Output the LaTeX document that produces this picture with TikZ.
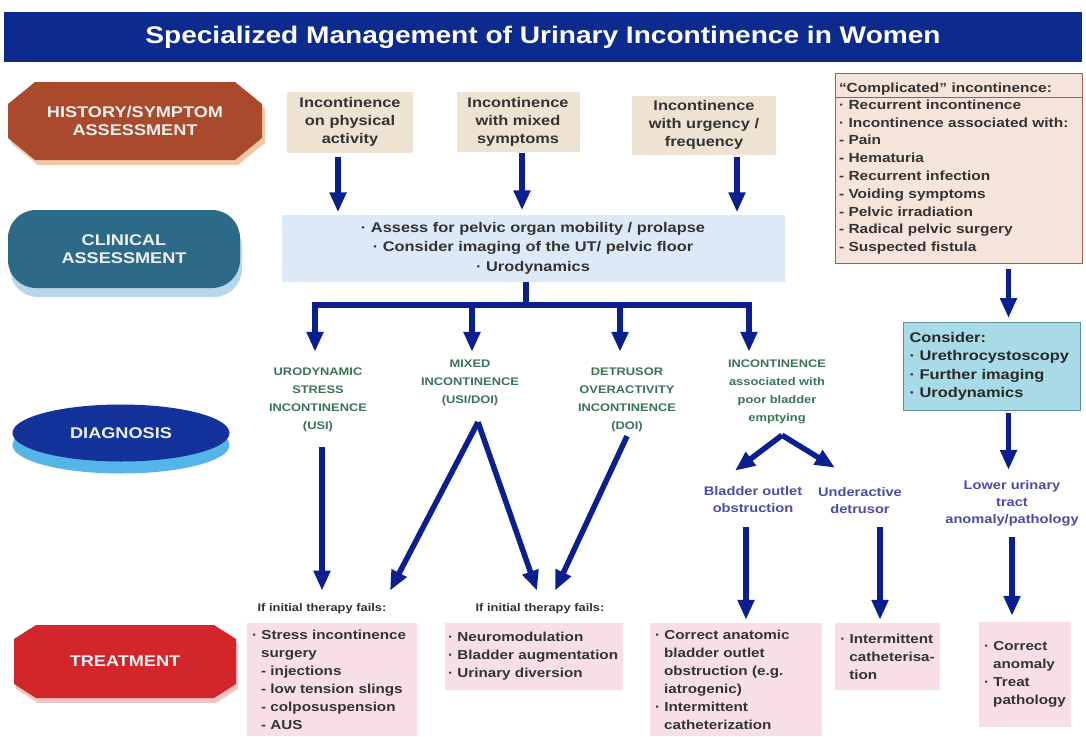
\documentclass[tikz,border=0pt]{standalone}
\usepackage{fontspec}
\setmainfont{Liberation Sans}[FakeStretch=1.17]
\usetikzlibrary{arrows.meta,shapes.geometric,shapes.multipart,shadows}

\definecolor{bluTitolo}{RGB}{13,43,142}
\definecolor{marrone}{RGB}{169,74,44}
\definecolor{pesca}{RGB}{242,199,164}
\definecolor{tealScuro}{RGB}{45,106,136}
\definecolor{celesteOmbra}{RGB}{185,215,234}
\definecolor{bluDiag}{RGB}{19,51,155}
\definecolor{azzurroOmbra}{RGB}{86,181,232}
\definecolor{rosso}{RGB}{211,38,42}
\definecolor{rosaOmbra}{RGB}{245,196,196}
\definecolor{beige}{RGB}{238,227,211}
\definecolor{celesteBox}{RGB}{220,233,246}
\definecolor{bluFreccia}{RGB}{11,31,143}
\definecolor{verde}{RGB}{59,115,85}
\definecolor{viola}{RGB}{75,75,168}
\definecolor{compFill}{RGB}{245,228,217}
\definecolor{compBordo}{RGB}{160,96,76}
\definecolor{consFill}{RGB}{168,219,231}
\definecolor{consBordo}{RGB}{92,141,153}
\definecolor{rosa}{RGB}{247,223,229}
\definecolor{testo}{RGB}{51,51,51}

\begin{document}
\begin{tikzpicture}[x=1pt, y=-1pt,
		freccia/.style={-{Triangle[width=16pt,length=20pt]}, line width=5.5pt, draw=bluFreccia},
		fase/.style={text=white!94!black, align=center, inner sep=0pt,
			font=\bfseries\fontsize{15.5}{18}\selectfont},
		sintomo/.style={fill=beige, text=testo, align=center, inner sep=0pt,
			font=\bfseries\fontsize{14}{18}\selectfont},
		diagn/.style={text=verde, align=center, inner sep=0pt,
			font=\bfseries\fontsize{11}{18}\selectfont},
		esito/.style={text=viola, align=center, inner sep=0pt,
			font=\bfseries\fontsize{12.5}{17}\selectfont},
		fallimento/.style={text=testo, inner sep=0pt,
			font=\bfseries\fontsize{11}{13}\selectfont},
		trat/.style={fill=rosa, text=testo, align=left, inner xsep=5pt, inner ysep=0pt,
			font=\bfseries\fontsize{13}{18}\selectfont}]
	
	\useasboundingbox[fill=white] (0,0) rectangle (1086,736);
	\def\rientro{\hspace*{0.7em}}
	%% ottagono: x1 y1 x2 y2 smusso-x smusso-y
	\def\ottagono#1#2#3#4#5#6{(#1+#5,#2) -- (#3-#5,#2) -- (#3,#2+#6) -- (#3,#4-#6)
		-- (#3-#5,#4) -- (#1+#5,#4) -- (#1,#4-#6) -- (#1,#2+#6) -- cycle}
	
	%% --- titolo ---
	\node[fill=bluTitolo, text=white, minimum width=1078pt, minimum height=50pt,
		font=\bfseries\fontsize{24}{28}\selectfont] (titolo) at (543,37)
		{Specialized Management of Urinary Incontinence in Women};
	
	%% --- fasi (colonna sinistra) ---
	\fill[pesca, shift={(3,5)}] \ottagono{8}{82}{262}{160}{27}{22};
	\fill[marrone] \ottagono{8}{82}{262}{160}{27}{22};
	\node[fase] (storia) at (135,121) {HISTORY/SYMPTOM\\ASSESSMENT};
	
	\node[fase, rectangle, rounded corners=28pt, fill=tealScuro,
		minimum width=232pt, minimum height=78pt,
		drop shadow={shadow xshift=2pt, shadow yshift=-9pt, fill=celesteOmbra, opacity=1}]
		(clinica) at (124,249) {CLINICAL\\ASSESSMENT};
	\node[fase, ellipse, fill=bluDiag, minimum width=217pt, minimum height=57pt,
		drop shadow={shadow xshift=0pt, shadow yshift=-12pt, fill=azzurroOmbra, opacity=1}]
		(diagnosi) at (121,433) {DIAGNOSIS};
	
	\fill[rosaOmbra, shift={(2,5)}] \ottagono{14}{625}{236}{698}{22}{14};
	\fill[rosso] \ottagono{14}{625}{236}{698}{22}{14};
	\node[fase] (terapia) at (125,661) {TREATMENT};
	
	%% --- sintomi ---
	\node[sintomo, minimum width=126pt, minimum height=61pt] (sforzo) at (350,122)
		{Incontinence\\on physical\\activity};
	\node[sintomo, minimum width=123pt, minimum height=60pt] (misti) at (518,122)
		{Incontinence\\with mixed\\symptoms};
	\node[sintomo, minimum width=144pt, minimum height=59pt] (urgenza) at (704,125)
		{Incontinence\\with urgency /\\frequency};
	
	%% --- valutazione clinica ---
	\node[fill=celesteBox, text=testo, align=center, minimum width=503pt, minimum height=67pt,
		font=\bfseries\fontsize{14}{19.5}\selectfont] (valut) at (533,248)
		{· Assess for pelvic organ mobility / prolapse\\
		 · Consider imaging of the UT/ pelvic floor\\
		 · Urodynamics};
	
	%% --- incontinenza complicata ---
	\node[rectangle split, rectangle split parts=2, draw=compBordo, line width=1pt,
		fill=compFill, text=testo, anchor=north west, text width=240pt, align=left,
		inner xsep=3.5pt, inner ysep=2pt,
		font=\bfseries\fontsize{13.2}{17.8}\selectfont] (compl) at (835,73)
		{\rule{0pt}{16pt}“Complicated” incontinence:
		 \nodepart{two}
		 · Recurrent incontinence\\
		 · Incontinence associated with:\\
		 - Pain\\
		 - Hematuria\\
		 - Recurrent infection\\
		 - Voiding symptoms\\
		 - Pelvic irradiation\\
		 - Radical pelvic surgery\\
		 - Suspected fistula\rule[-9pt]{0pt}{9pt}};
	\node[draw=consBordo, line width=1pt, fill=consFill, text=testo!80!black,
		anchor=north west, text width=165pt, minimum height=88pt, align=left,
		inner xsep=6pt, font=\bfseries\fontsize{14}{18.5}\selectfont] (consid) at (903,322)
		{Consider:\\
		 · Urethrocystoscopy\\
		 · Further imaging\\
		 · Urodynamics};
	
	%% --- diagnosi ---
	\node[diagn] (usi) at (318,400) {URODYNAMIC\\STRESS\\INCONTINENCE\\(USI)};
	\node[diagn] (mista) at (470,383) {MIXED\\INCONTINENCE\\(USI/DOI)};
	\node[diagn] (doi) at (627,400) {DETRUSOR\\OVERACTIVITY\\INCONTINENCE\\(DOI)};
	\node[diagn] (svuot) at (777,392) {INCONTINENCE\\associated with\\poor bladder\\emptying};
	
	\node[esito] (ostruz) at (753,500) {Bladder outlet\\obstruction};
	\node[esito] (ipoatt) at (860,501) {Underactive\\detrusor};
	\node[esito] (anomalia) at (1012,503) {Lower urinary\\tract\\anomaly/pathology};
	
	%% --- trattamento ---
	\node[fallimento] (fail1) at (322,609) {If initial therapy fails:};
	\node[fallimento] (fail2) at (540,609) {If initial therapy fails:};
	
	\node[trat, text width=160pt, minimum height=113pt] (t1) at (332,679.5)
		{· Stress incontinence\\
		 \rientro surgery\\
		 \rientro- injections\\
		 \rientro- low tension slings\\
		 \rientro- colposuspension\\
		 \rientro- AUS};
	\node[trat, inner xsep=3pt, text width=172pt, minimum height=67pt] (t2) at (534,656.5)
		{· Neuromodulation\\
		 · Bladder augmentation\\
		 · Urinary diversion};
	\node[trat, text width=162pt, minimum height=113pt] (t3) at (736,679.5)
		{· Correct anatomic\\
		 \rientro bladder outlet\\
		 \rientro obstruction (e.g.\\
		 \rientro iatrogenic)\\
		 · Intermittent\\
		 \rientro catheterization};
	\node[trat, minimum width=101pt, minimum height=67pt] (t4) at (887.5,656.5)
		{· Intermittent\\
		 \rientro catheterisa-\\
		 \rientro tion};
	\node[trat, minimum width=90pt, minimum height=105pt] (t5) at (1025,674.5)
		{· Correct\\
		 \rientro anomaly\\
		 · Treat\\
		 \rientro pathology};
	
	%% --- frecce: sintomi -> valutazione ---
	\draw[freccia, shorten <=4pt, shorten >=2pt] ([xshift=-12pt]sforzo.south) -- ([xshift=-12pt]sforzo.south |- valut.north);
	\draw[freccia, shorten <=1pt, shorten >=4pt] ([xshift=4pt]misti.south) -- ([xshift=4pt]misti.south |- valut.north);
	\draw[freccia, shorten <=2pt, shorten >=2pt] ([xshift=33pt]urgenza.south) -- ([xshift=33pt]urgenza.south |- valut.north);
	
	%% --- ramificazione verso le diagnosi ---
	\coordinate (bus) at (526,305);
	\draw[line width=5.5pt, draw=bluFreccia] (valut.south -| bus) -- (bus);
	\draw[freccia, shorten >=16pt] (bus) -| ([xshift=-3pt]usi.north);
	\draw[freccia, shorten >=8pt] (bus) -| ([xshift=2pt]mista.north);
	\draw[freccia, shorten >=16pt] (bus) -| ([xshift=-7pt]doi.north);
	\draw[freccia, shorten >=8pt] (bus) -| ([xshift=-28pt]svuot.north);
	
	%% --- diagnosi -> trattamento ---
	\draw[freccia, shorten <=15pt, shorten >=13pt] ([xshift=4pt]usi.south) -- ([xshift=4pt]usi.south |- fail1.north);
	\draw[freccia] ([xshift=8pt,yshift=-16pt]mista.south) -- ([xshift=68pt,yshift=13pt]fail1.north);
	\draw[freccia] ([xshift=8pt,yshift=-16pt]mista.south) -- ([xshift=-3pt,yshift=13pt]fail2.north);
	\draw[freccia] ([yshift=-4pt]doi.south) -- ([xshift=15pt,yshift=13pt]fail2.north);
	
	\draw[freccia] ([xshift=5pt,yshift=-11pt]svuot.south) -- ([xshift=-18pt,yshift=16pt]ostruz.north);
	\draw[freccia] ([xshift=5pt,yshift=-11pt]svuot.south) -- ([xshift=-25pt,yshift=20pt]ipoatt.north);
	
	\draw[freccia, shorten <=14pt, shorten >=3pt] ([xshift=-7pt]ostruz.south) -- ([xshift=-7pt]ostruz.south |- t3.north);
	\draw[freccia, shorten <=13pt, shorten >=3pt] ([xshift=20pt]ipoatt.south) -- ([xshift=20pt]ipoatt.south |- t4.north);
	
	%% --- colonna destra ---
	\draw[freccia, shorten <=5pt, shorten >=4pt] ([xshift=16.5pt]consid.north |- compl.south) -- ([xshift=16.5pt]consid.north);
	\draw[freccia, shorten <=2pt, shorten >=10pt] ([xshift=16.5pt]consid.south) -- ([xshift=16.5pt]consid.south |- anomalia.north);
	\draw[freccia, shorten <=11pt, shorten >=6pt] (anomalia.south) -- (anomalia.south |- t5.north);
	
\end{tikzpicture}
\end{document}
